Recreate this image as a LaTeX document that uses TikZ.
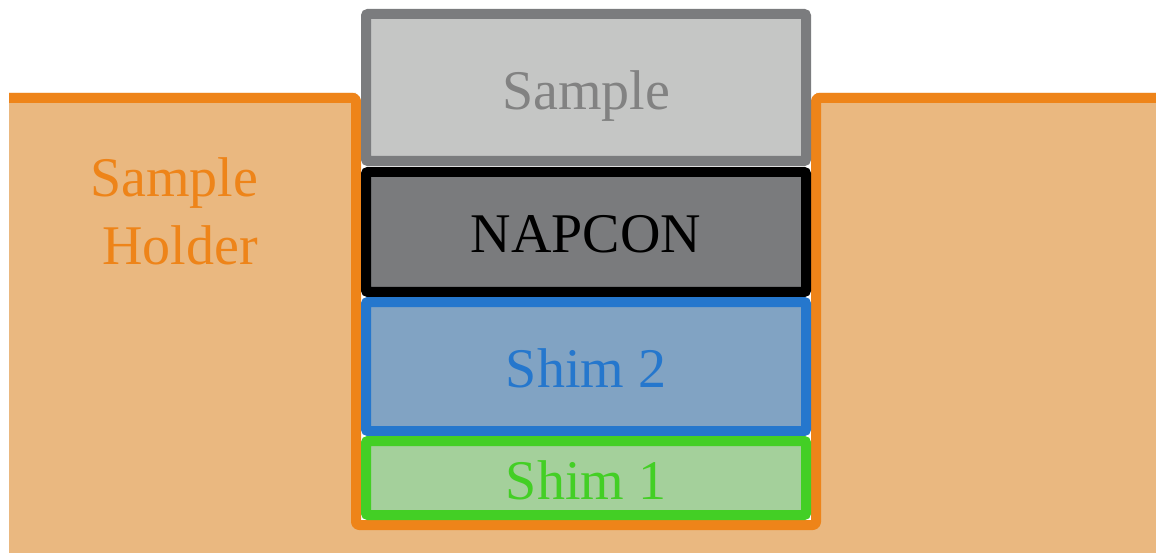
\documentclass[tikz,border=0pt]{standalone}
\usepackage{fontspec}
\setmainfont{Liberation Serif}
\definecolor{holderfill}{RGB}{234,184,128}
\definecolor{holderline}{RGB}{238,132,25}
\definecolor{samplefill}{RGB}{197,198,197}
\definecolor{sampleline}{RGB}{123,124,126}
\definecolor{sampletext}{RGB}{130,130,130}
\definecolor{napfill}{RGB}{122,123,125}
\definecolor{shimtwofill}{RGB}{129,163,195}
\definecolor{shimtwoline}{RGB}{37,119,205}
\definecolor{shimonefill}{RGB}{164,208,155}
\definecolor{shimoneline}{RGB}{67,207,37}
\tikzset{
  layer/.style={draw, line width=10pt, rounded corners=2pt, minimum width=440pt, inner sep=0pt, outer sep=0pt},
  lbl/.style={anchor=base, inner sep=0pt, font=\fontsize{56}{68}\selectfont}
}
\begin{document}
\begin{tikzpicture}[x=1pt,y=-1pt]
\useasboundingbox (0,0) rectangle (1156,553);
% holder body
\fill[holderfill] (9,93) -- (356,93) -- (356,525) -- (816,525) -- (816,93) -- (1156,93) -- (1156,553) -- (9,553) -- cycle;
\draw[holderline, line width=10pt, rounded corners=3pt, line join=round] (9,98) -- (356,98) -- (356,525) -- (816,525) -- (816,98) -- (1156,98);
% layers
\node[layer, draw=sampleline, fill=samplefill, minimum height=147pt] (sample) at (586,87.5) {};
\node[layer, draw=black, fill=napfill, minimum height=120pt] (napcon) at (586,232) {};
\node[layer, draw=shimtwoline, fill=shimtwofill, minimum height=129pt] (shimtwo) at (586,366.5) {};
\node[layer, draw=shimoneline, fill=shimonefill, minimum height=74pt] (shimone) at (586,478) {};
% labels
\node[lbl, text=sampletext] (sampletxt) at (586,110) {Sample};
\node[lbl, text=black] (naptxt) at (586,253) {NAPCON};
\node[lbl, text=shimtwoline] (shimtwotxt) at (586,387) {Shim 2};
\node[lbl, text=shimoneline] (shimonetxt) at (586,499) {Shim 1};
\node[lbl, text=holderline] (holdera) at (174,197) {Sample};
\node[lbl, text=holderline] (holderb) at (180,265) {Holder};
\end{tikzpicture}
\end{document}
